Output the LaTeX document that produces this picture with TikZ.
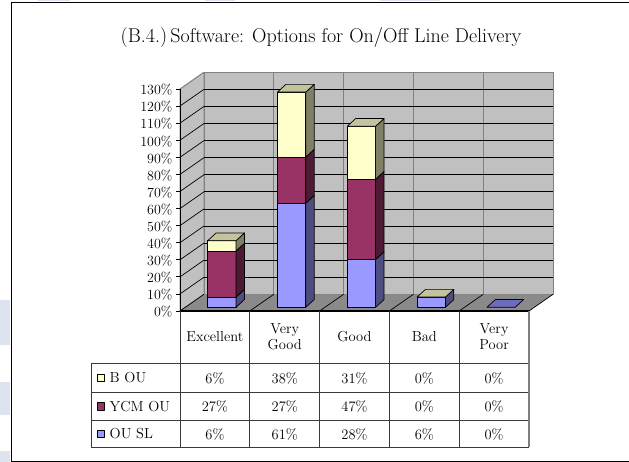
\documentclass[tikz,border=0pt]{standalone}
\usetikzlibrary{calc}
\definecolor{wallgray}{HTML}{C0C0C0}
\definecolor{floorgray}{HTML}{8A8A8A}
\definecolor{edgegray}{HTML}{808080}
\definecolor{tablegray}{HTML}{3A3A3A}
\definecolor{stripe}{HTML}{DDE4EF}
\definecolor{blueF}{HTML}{9999FF}
\definecolor{blueS}{HTML}{4D4D80}
\definecolor{blueFlat}{HTML}{6C6CBC}
\definecolor{maroonF}{HTML}{993366}
\definecolor{maroonS}{HTML}{4D1A33}
\definecolor{yellowF}{HTML}{FFFFCC}
\definecolor{yellowS}{HTML}{808066}
\definecolor{yellowT}{HTML}{C4C49C}
\tikzset{
  barline/.style={draw=black, line width=0.7pt},
  gridline/.style={draw=black, line width=0.7pt},
  wallline/.style={draw=edgegray, line width=1pt},
  tabline/.style={draw=tablegray, line width=0.9pt},
  axislabel/.style={anchor=east, inner sep=0pt, font=\fontsize{14}{15}\selectfont},
  cell/.style={inner sep=0pt, align=center, font=\fontsize{14.5}{16}\selectfont},
  legtext/.style={anchor=west, inner sep=0pt, font=\fontsize{14.5}{16}\selectfont},
  legbox/.style={draw=black, line width=0.6pt, minimum size=7.5pt, inner sep=0pt},
}
% bar geometry: left edge of the front face, base line, px per percent, depth
\newcommand\barx[1]{(207.7+69.8*#1)}
\def\bw{28.3}\def\by{307.3}\def\pp{1.708}\def\ddx{8.4}\def\ddy{7.7}
% one stacked segment: category, low %, high %, front colour, side colour
\newcommand\barseg[5]{%
  \filldraw[barline, fill=#4] ({\barx{#1}},{\by-\pp*#2}) rectangle ({\barx{#1}+\bw},{\by-\pp*#3});
  \filldraw[barline, fill=#5] ({\barx{#1}+\bw},{\by-\pp*#2}) -- ++(\ddx,-\ddy)
     -- ({\barx{#1}+\bw+\ddx},{\by-\pp*#3-\ddy}) -- ({\barx{#1}+\bw},{\by-\pp*#3}) -- cycle;}
% top face of a stack: category, height %, colour
\newcommand\bartop[3]{%
  \filldraw[barline, fill=#3] ({\barx{#1}},{\by-\pp*#2}) -- ++(\bw,0) -- ++(\ddx,-\ddy)
     -- ++(-\bw,0) -- cycle;}
\begin{document}
\begin{tikzpicture}[x=1pt,y=-1pt,line join=round]
\useasboundingbox (0,0) rectangle (629,462);
\fill[white] (0,0) rectangle (629,462);
% pale page bands outside the frame
\fill[stripe] (0,300) rectangle (10,345);
\fill[stripe] (0,382) rectangle (10,415);
\fill[stripe] (0,451) rectangle (10,462);
\fill[stripe] (38,0) rectangle (70,1.5);
\fill[stripe] (205,0) rectangle (235,1.5);
\fill[stripe] (380,0) rectangle (440,1.5);
% frame
\draw[line width=1pt] (629,2.5) -- (11.5,2.5) -- (11.5,461) -- (629,461);

\node[font=\fontsize{20}{23}\selectfont] (title) at (321,38)
  {(B.4.)\,Software: Options for On/Off Line Delivery};

% walls and floor
\filldraw[fill=wallgray, wallline] (204,294.3) -- (553,294.3) -- (553,72.2) -- (204,72.2) -- cycle;
\filldraw[fill=wallgray, wallline] (180,311) -- (204,294.3) -- (204,72.2) -- (180,89) -- cycle;
\fill[floorgray] (180,311) -- (529,311) -- (553,294.3) -- (204,294.3) -- cycle;
% back wall category separators
\foreach \k in {1,...,4}
  \draw[wallline] ({204+69.8*\k},72.2) -- ({204+69.8*\k},294.3);
% gridlines on back and side walls
\foreach \i in {1,...,12}
  \draw[gridline] (204,{294.3-17.08*\i}) -- (553,{294.3-17.08*\i});
\foreach \i in {1,...,12}
  \draw[gridline] (180,{311-17.08*\i}) -- (204,{294.3-17.08*\i});
% floor grid
\foreach \k in {0,...,5}
  \draw[gridline] ({180+69.8*\k},311) -- ({204+69.8*\k},294.3);
% value axis with ticks and labels
\draw[gridline] (180,311) -- (180,89);
\foreach \i [evaluate=\i as \v using int(10*\i)] in {0,...,13}{
  \draw[gridline] (176,{311-17.08*\i}) -- (180,{311-17.08*\i});
  \node[axislabel] (ax\i) at (172.5,{311-17.08*\i+1}) {\v\%};
}

% Excellent: 6, 27, 6
\barseg{0}{0}{6}{blueF}{blueS}
\barseg{0}{6}{33}{maroonF}{maroonS}
\barseg{0}{33}{39}{yellowF}{yellowS}
\bartop{0}{39}{yellowT}
% Very Good: 61, 27, 38
\barseg{1}{0}{61}{blueF}{blueS}
\barseg{1}{61}{88}{maroonF}{maroonS}
\barseg{1}{88}{126}{yellowF}{yellowS}
\bartop{1}{126}{yellowT}
% Good: 28, 47, 31
\barseg{2}{0}{28}{blueF}{blueS}
\barseg{2}{28}{75}{maroonF}{maroonS}
\barseg{2}{75}{106}{yellowF}{yellowS}
\bartop{2}{106}{yellowT}
% Bad: 6, 0, 0
\barseg{3}{0}{6}{blueF}{blueS}
\bartop{3}{6}{yellowT}
% Very Poor: all zero
\bartop{4}{0}{blueFlat}

% data table
\draw[line width=1.2pt] (180,311) -- (529,311);
\foreach \yy in {363,392,420,447}
  \draw[tabline] (91,\yy) -- (529,\yy);
\draw[tabline] (91,363) -- (91,447);
\foreach \k in {0,...,4}
  \draw[tabline] ({180+69.8*\k},311) -- ({180+69.8*\k},447);
\draw[draw=edgegray, line width=1.4pt] (529,311) -- (529,447);

\node[cell] (h0) at (214.9,337) {Excellent};
\node[cell] (h1) at (284.7,337) {Very\\Good};
\node[cell] (h2) at (354.5,337) {Good};
\node[cell] (h3) at (424.3,337) {Bad};
\node[cell] (h4) at (494.1,337) {Very\\Poor};

\foreach \v [count=\c from 0] in {6\%,38\%,31\%,0\%,0\%}
  \node[cell] (ra\c) at ({214.9+69.8*\c},378) {\v};
\foreach \v [count=\c from 0] in {27\%,27\%,47\%,0\%,0\%}
  \node[cell] (rb\c) at ({214.9+69.8*\c},406.5) {\v};
\foreach \v [count=\c from 0] in {6\%,61\%,28\%,6\%,0\%}
  \node[cell] (rc\c) at ({214.9+69.8*\c},434) {\v};

% legend column
\node[legbox, fill=yellowF] (k1) at (101,378) {};
\node[legbox, fill=maroonF] (k2) at (101,406.5) {};
\node[legbox, fill=blueF] (k3) at (101,434) {};
\node[legtext] (l1) at (109.5,378) {B OU};
\node[legtext] (l2) at (109.5,406.5) {YCM OU};
\node[legtext] (l3) at (109.5,434) {OU SL};
\end{tikzpicture}
\end{document}
